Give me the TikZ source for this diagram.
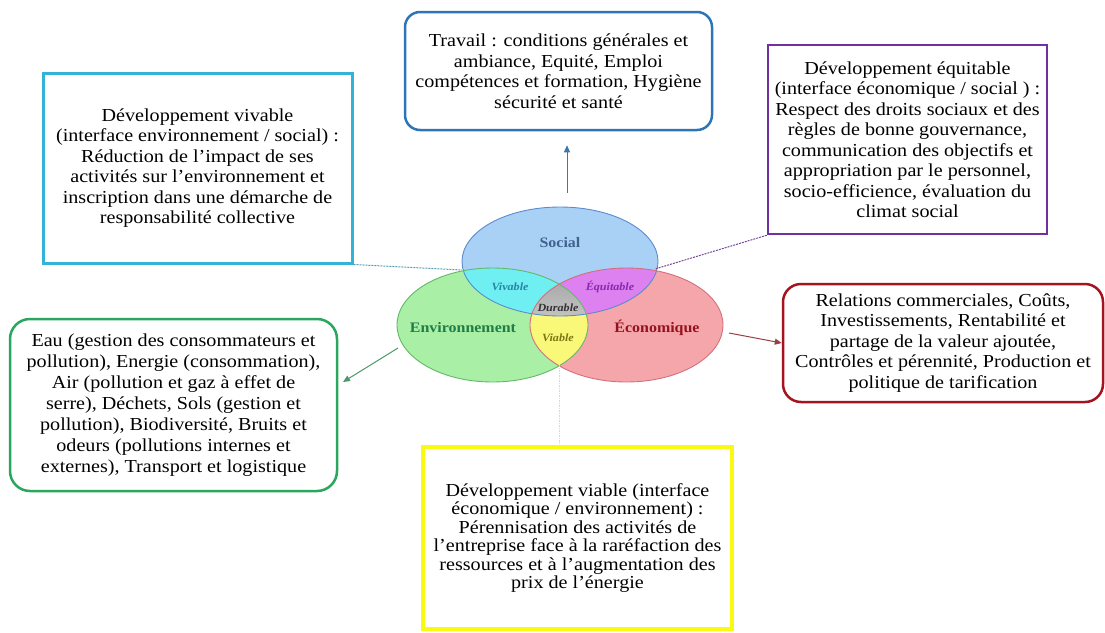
\documentclass[tikz,border=0pt]{standalone}
\usepackage{fontspec}
\setmainfont{Liberation Serif}[FakeStretch=1.1]
\usetikzlibrary{positioning,calc,arrows.meta}
\tikzset{>=stealth}

% Colours of the three spheres
\definecolor{socfill}{HTML}{A9D0F5}
\definecolor{socline}{HTML}{5B8CCB}
\definecolor{envfill}{HTML}{A9EFA6}
\definecolor{envline}{HTML}{63B96A}
\definecolor{ecofill}{HTML}{F5A6AB}
\definecolor{ecoline}{HTML}{D4707C}
\definecolor{vivfill}{HTML}{70EFF3}
\definecolor{equfill}{HTML}{DD80F0}
\definecolor{viafill}{HTML}{F9F878}
% Colours of the boxes
\definecolor{travcol}{HTML}{2E75B6}
\definecolor{vivcol}{HTML}{33B3DA}
\definecolor{equcol}{HTML}{7030A0}
\definecolor{envcol}{HTML}{2BA65E}
\definecolor{ecocol}{HTML}{A31420}
\definecolor{viacol}{HTML}{FAFA10}

\tikzset{
  infobox/.style={draw, line width=2.5pt, inner sep=0pt, align=center,
    font=\fontsize{18.3}{20.5}\selectfont},
  sphere/.style={font=\fontsize{14.5}{16}\selectfont\bfseries},
  inter/.style={font=\fontsize{11}{13}\selectfont\bfseries\itshape},
  link/.style={line width=1pt},
  tip/.style={-{Triangle[length=7pt,width=6pt]}},
}

\begin{document}
\begin{tikzpicture}[x=1pt,y=-1pt]
\useasboundingbox (0,0) rectangle (1105,632);

% Centres of the spheres
\coordinate (S) at (560,261.5);
\coordinate (E) at (492.5,325);
\coordinate (C) at (626.5,325);

% Fill the spheres
\fill[socfill] (S) ellipse [x radius=98pt, y radius=54.5pt];
\fill[envfill] (E) ellipse [x radius=95.5pt, y radius=57pt];
\fill[ecofill] (C) ellipse [x radius=96.5pt, y radius=57pt];

% Fill the two by two interfaces
\begin{scope}
  \clip (S) ellipse [x radius=98pt, y radius=54.5pt];
  \fill[vivfill] (E) ellipse [x radius=95.5pt, y radius=57pt];
  \fill[equfill] (C) ellipse [x radius=96.5pt, y radius=57pt];
\end{scope}
\begin{scope}
  \clip (E) ellipse [x radius=95.5pt, y radius=57pt];
  \fill[viafill] (C) ellipse [x radius=96.5pt, y radius=57pt];
\end{scope}

% Centre where all three meet
\begin{scope}
  \clip (S) ellipse [x radius=98pt, y radius=54.5pt];
  \clip (E) ellipse [x radius=95.5pt, y radius=57pt];
  \shade[top color=gray!75, bottom color=gray!10]
    (C) ellipse [x radius=96.5pt, y radius=57pt];
\end{scope}

% Outlines
\draw[socline, line width=0.9pt] (S) ellipse [x radius=98pt, y radius=54.5pt];
\draw[envline, line width=0.9pt] (E) ellipse [x radius=95.5pt, y radius=57pt];
\draw[ecoline, line width=0.9pt] (C) ellipse [x radius=96.5pt, y radius=57pt];

% Names of spheres and interfaces
\node[sphere, text=socline!70!black] (soc) at (560,243) {Social};
\node[sphere, text=envcol!75!black] (env) at (463,328) {Environnement};
\node[sphere, text=ecocol!90!black] (eco) at (657,328) {Économique};
\node[inter, text=vivcol!75!black] (viv) at (510,287) {Vivable};
\node[inter, text=equcol!85!magenta] (equ) at (610,287) {Équitable};
\node[inter, text=black!80] (dur) at (558,308) {Durable};
\node[inter, text=olive!85!black] (via) at (558,338) {Viable};

% Boxes
\node[infobox, travcol, text=black, rounded corners=15pt,
  minimum width=307pt, minimum height=118pt] (travail) at (558.5,71)
  {Travail : conditions générales et\\ ambiance, Equité, Emploi\\
   compétences et formation, Hygiène\\ sécurité et santé};

\node[infobox, vivcol, text=black, line width=3pt,
  minimum width=309pt, minimum height=190pt] (vivbox) at (197.5,168)
  {Développement vivable\\ (interface environnement / social) :\\
   Réduction de l’impact de ses\\ activités sur l’environnement et\\
   inscription dans une démarche de\\ responsabilité collective};

\node[infobox, equcol, text=black,
  minimum width=279pt, minimum height=189pt] (equbox) at (907.5,139.5)
  {Développement équitable\\ (interface économique / social ) :\\
   Respect des droits sociaux et des\\ règles de bonne gouvernance,\\
   communication des objectifs et\\ appropriation par le personnel,\\
   socio-efficience, évaluation du\\ climat social};

\node[infobox, envcol, text=black, rounded corners=20pt,
  font=\fontsize{18.3}{21}\selectfont,
  minimum width=327pt, minimum height=172pt] (envbox) at (173.5,405)
  {Eau (gestion des consommateurs et\\ pollution), Energie (consommation),\\
   Air (pollution et gaz à effet de\\ serre), Déchets, Sols (gestion et\\
   pollution), Biodiversité, Bruits et\\ odeurs (pollutions internes et\\
   externes), Transport et logistique};

\node[infobox, ecocol, text=black, rounded corners=18pt,
  minimum width=320pt, minimum height=118pt] (ecobox) at (943,343)
  {Relations commerciales, Coûts,\\ Investissements, Rentabilité et\\
   partage de la valeur ajoutée,\\ Contrôles et pérennité, Production et\\
   politique de tarification};

\node[infobox, viacol, text=black, line width=3.5pt,
  font=\fontsize{18.3}{18.5}\selectfont,
  minimum width=309pt, minimum height=182pt] (viabox) at (577.5,538)
  {Développement viable (interface\\ économique / environnement) :\\
   Pérennisation des activités de\\ l’entreprise face à la raréfaction des\\
   ressources et à l’augmentation des\\ prix de l’énergie};

% Points where the connectors leave the spheres
\coordinate (sTop) at (567,193);
\coordinate (eLeft) at (398,348);
\coordinate (eTip) at (343,382);
\coordinate (cRight) at (729,333);
\coordinate (vivPt) at (462,270);
\coordinate (equPt) at (655,269);
\coordinate (viaPt) at (559,365);

% Connectors
\draw[link, tip, travcol!80!gray, shorten >=14pt] (sTop) -- (sTop |- travail.south);
\draw[link, tip, envcol!60!gray] (eLeft) -- (eTip);
\draw[link, tip, ecocol!60!gray] (cRight) -- (ecobox.west);
\draw[link, vivcol!60!gray, dash pattern=on 2pt off 1pt] (vivbox.south east) -- (vivPt);
\draw[link, equcol!70!gray, dash pattern=on 2pt off 1pt] (equbox.south west) -- (equPt);
\draw[link, viacol!90!orange, dash pattern=on 1.5pt off 1pt] (viaPt) -- (viaPt |- viabox.north);

\end{tikzpicture}
\end{document}
